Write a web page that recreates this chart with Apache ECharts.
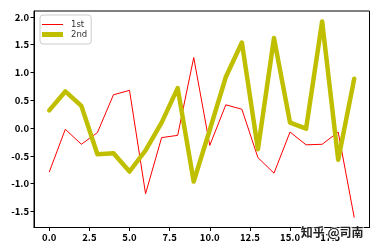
<!DOCTYPE html>
<html>
<head>
<meta charset="utf-8">
<script src="https://cdn.jsdelivr.net/npm/echarts@6/dist/echarts.min.js"></script>
<style>html,body{margin:0;padding:0;background:#fff}#c{width:379px;height:250px}</style>
</head>
<body>
<div id="c"></div>
<script>
var xValues = [0,1,2,3,4,5,6,7,8,9,10,11,12,13,14,15,16,17,18,19];
var first = [-0.79,-0.02,-0.29,-0.08,0.60,0.68,-1.18,-0.17,-0.13,1.27,-0.31,0.42,0.34,-0.53,-0.81,-0.07,-0.30,-0.29,-0.07,-1.61];
var second = [0.32,0.66,0.40,-0.47,-0.45,-0.78,-0.40,0.10,0.72,-0.96,-0.03,0.92,1.54,-0.38,1.62,0.10,-0.01,1.92,-0.57,0.89];
var xTicks = [0,2.5,5,7.5,10,12.5,15,17.5];
var yTicks = [-1.5,-1.0,-0.5,0.0,0.5,1.0,1.5,2.0];
var seriesNames = ['1st','2nd'];

function pair(ys){ return xValues.map(function(x,i){return [x, ys[i]];}); }
var tickFont = {fontFamily:'"Noto Sans CJK SC", "DejaVu Sans", sans-serif', fontWeight:'bold', fontSize:9.5, color:'#000'};

var chart = echarts.init(document.getElementById('c'), null, {renderer:'canvas'});
chart.setOption({
  animation:false,
  backgroundColor:'#fff',
  grid:{left:34, right:9.5, top:11, bottom:22.5, show:true, borderColor:'#000', borderWidth:1, backgroundColor:'transparent'},
  xAxis:{
    type:'value', min:-0.95, max:19.95,
    axisLine:{show:true, onZero:false, lineStyle:{color:'#000'}},
    axisTick:{show:true, length:3.5, customValues:xTicks, lineStyle:{color:'#000'}},
    splitLine:{show:false},
    axisLabel:Object.assign({margin:5, customValues:xTicks, formatter:function(v){return v.toFixed(1);}}, tickFont)
  },
  yAxis:{
    type:'value', min:-1.787, max:2.107,
    axisLine:{show:true, onZero:false, lineStyle:{color:'#000'}},
    axisTick:{show:true, length:3.5, customValues:yTicks, lineStyle:{color:'#000'}},
    splitLine:{show:false},
    axisLabel:Object.assign({margin:5, customValues:yTicks, formatter:function(v){return v.toFixed(1);}}, tickFont)
  },
  legend:{
    orient:'vertical', left:40, top:15,
    backgroundColor:'rgba(255,255,255,0.8)', borderColor:'#ccc', borderWidth:1, borderRadius:3,
    padding:[5,4,5,2], itemWidth:21, itemHeight:11, itemGap:1,
    textStyle:{fontFamily:'"DejaVu Sans", sans-serif', fontSize:8.5, color:'#333', padding:[0,0,0,3]},
    data:[
      {name:seriesNames[0], icon:'path://M0,5 L21,5 L21,6 L0,6 Z', itemStyle:{color:'#ff0000'}},
      {name:seriesNames[1], icon:'path://M0,3 L21,3 L21,8 L0,8 Z', itemStyle:{color:'#bfbf00'}}
    ]
  },
  series:[
    {name:seriesNames[0], type:'line', data:pair(first), symbol:'none', lineStyle:{color:'#ff0000', width:1, join:'round'}, itemStyle:{color:'#ff0000'}, z:2},
    {name:seriesNames[1], type:'line', data:pair(second), symbol:'none', lineStyle:{color:'#bfbf00', width:4.5, join:'round', cap:'round'}, itemStyle:{color:'#bfbf00'}, z:3}
  ],
  graphic:[
    {type:'text', left:300, top:226, z:100, style:{text:'知乎 @司南', fontFamily:'"Noto Sans CJK SC", sans-serif', fontWeight:'bold', fontSize:12, fill:'#222', stroke:'#fff', lineWidth:1.5}}
  ]
});
</script>
</body>
</html>
